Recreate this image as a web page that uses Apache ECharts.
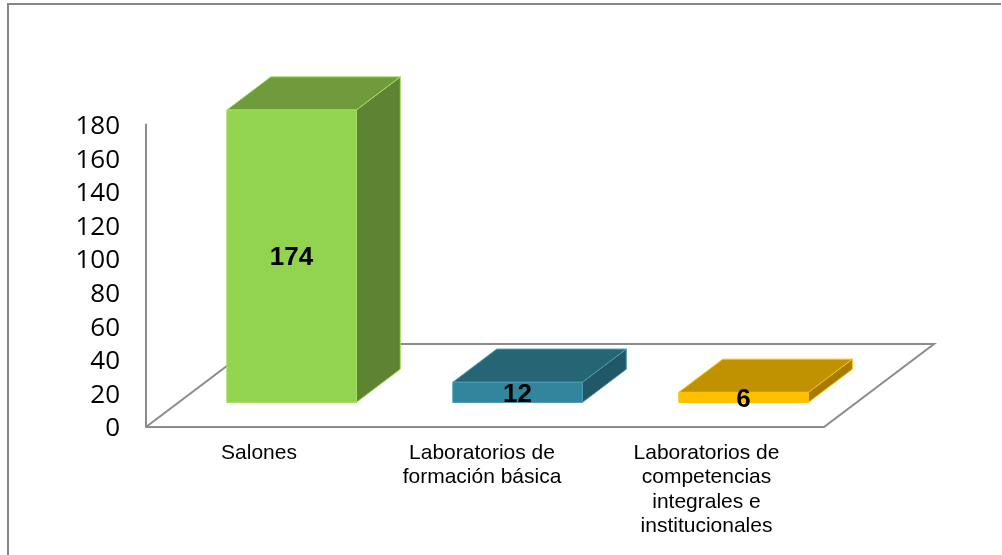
<!DOCTYPE html>
<html>
<head>
<meta charset="utf-8">
<title>Salones y laboratorios</title>
<style>
	html, body { margin: 0; padding: 0; background: #fff; }
	#main { width: 1002px; height: 555px; }
</style>
<script src="https://cdn.jsdelivr.net/npm/echarts@6/dist/echarts.min.js"></script>
</head>
<body>
<div id="main"></div>
<script type="text/javascript">
// datos
var categories = ['Salones', 'Laboratorios de\nformación básica', 'Laboratorios de\ncompetencias\nintegrales e\ninstitucionales'];
var values = [174, 12, 6];
var yTicks = [0, 20, 40, 60, 80, 100, 120, 140, 160, 180];

// colores de cada barra: frente, tapa, lado, borde
var frontColors = ['#92D350', '#31859C', '#FFC000'];
var topColors = ['#6F9B3C', '#266574', '#C09100'];
var sideColors = ['#5E8332', '#205867', '#A67C00'];
var edgeColors = ['#A5E060', '#4A9AAF', '#FFC000'];

// profundidad del piso en perspectiva
var floorDepthX = 110, floorDepthY = 83;
// las barras salen a 30% del piso, y tienen 40% de fondo
var barStart = 0.296, barDepth = 0.4, barRatio = 0.573;
var axisColor = '#8C8C8C';
// las etiquetas no quedan centradas del todo en su categoria
var labelPadRight = [0, 6, 9];

function poly(points, fill, stroke, z) {
	return {
		type: 'polygon',
		z2: z,
		shape: { points: points },
		style: { fill: fill, stroke: stroke, lineWidth: 1 }
	};
}

function renderFloor(params, api) {
	if (params.dataIndex > 0) return;
	var c = params.coordSys;
	var left = c.x, right = c.x + c.width, bottom = c.y + c.height;
	return {
		type: 'polyline',
		shape: { points: [
			[left, bottom],
			[right, bottom],
			[right + floorDepthX, bottom - floorDepthY],
			[left + floorDepthX, bottom - floorDepthY],
			[left, bottom]
		] },
		style: { fill: null, stroke: axisColor, lineWidth: 2 }
	};
}

function renderBar(params, api) {
	var i = params.dataIndex;
	var base = api.coord([i, 0]);
	var head = api.coord([i, api.value(1)]);
	var w = api.size([1, 0])[0] * barRatio;
	var ox = floorDepthX * barStart, oy = floorDepthY * barStart;
	var dx = floorDepthX * barDepth, dy = floorDepthY * barDepth;
	var x0 = base[0] + ox - w / 2, x1 = x0 + w;
	var y0 = base[1] - oy, y1 = head[1] - oy;
	var stroke = edgeColors[i];
	return {
		type: 'group',
		children: [
			poly([[x1, y0], [x1 + dx, y0 - dy], [x1 + dx, y1 - dy], [x1, y1]], sideColors[i], stroke, 1),
			poly([[x0, y1], [x0 + dx, y1 - dy], [x1 + dx, y1 - dy], [x1, y1]], topColors[i], stroke, 1),
			poly([[x0, y0], [x1, y0], [x1, y1], [x0, y1]], frontColors[i], stroke, 2),
			{
				type: 'text',
				z2: 5,
				style: {
					x: (x0 + x1) / 2,
					y: (y0 + y1) / 2 + 2,
					text: String(api.value(1)),
					align: 'center',
					verticalAlign: 'middle',
					fill: '#000',
					font: 'bold 26px "Liberation Sans", Arial, sans-serif'
				}
			}
		]
	};
}

var barData = [];
var xLabels = [];
for (var i = 0; i < values.length; i++) {
	barData.push([i, values[i]]);
	xLabels.push({ value: categories[i], textStyle: { padding: [0, labelPadRight[i], 0, 0] } });
}

var myChart = echarts.init(document.getElementById('main'), null, { renderer: 'canvas' });
myChart.setOption({
	animation: false,
	backgroundColor: '#fff',
	// marco exterior
	graphic: [{
		type: 'polyline',
		silent: true,
		shape: { points: [[8, 555], [8, 4], [1001, 4]] },
		style: { fill: null, stroke: '#868686', lineWidth: 2 }
	}],
	grid: { left: 146, right: 178, top: 124.5, bottom: 128 },
	xAxis: {
		type: 'category',
		data: xLabels,
		axisLine: { show: false },
		axisTick: { show: false },
		axisLabel: {
			interval: 0,
			margin: 14,
			color: '#000',
			fontFamily: '"Liberation Sans", Arial, sans-serif',
			fontSize: 21,
			lineHeight: 24.3,
			verticalAlign: 'top'
		}
	},
	yAxis: {
		type: 'value',
		min: yTicks[0],
		max: yTicks[yTicks.length - 1],
		interval: yTicks[1] - yTicks[0],
		axisLine: { show: true, lineStyle: { color: axisColor, width: 2 } },
		axisTick: { show: false },
		splitLine: { show: false },
		axisLabel: {
			margin: 26,
			color: '#000',
			fontFamily: '"Open Sans", sans-serif',
			fontSize: 26,
			verticalAlign: 'top',
			lineHeight: 4
		}
	},
	series: [
		{ type: 'custom', name: 'piso', renderItem: renderFloor, data: [[0, 0]], z: 1, silent: true },
		{ type: 'custom', name: 'barras', renderItem: renderBar, data: barData, z: 2, silent: true }
	]
});
</script>
</body>
</html>
